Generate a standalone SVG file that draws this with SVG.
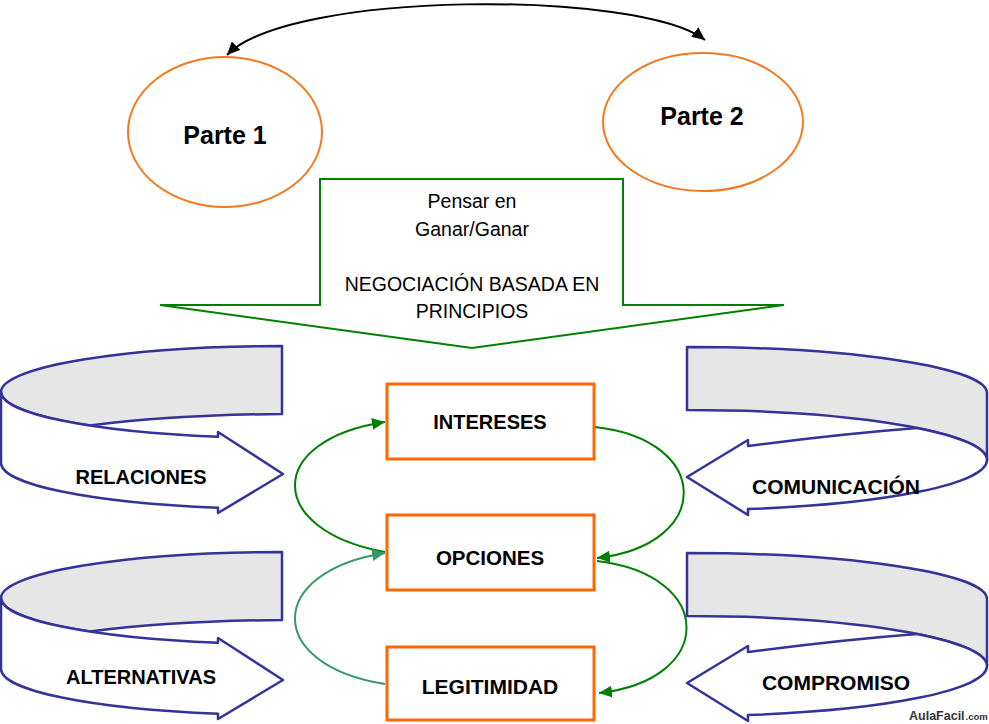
<svg xmlns="http://www.w3.org/2000/svg" width="989" height="724" viewBox="0 0 989 724">
<defs>
<style>
.lbl{font-family:"Liberation Sans",Arial,sans-serif;font-weight:bold;fill:#000;text-anchor:middle}
.reg{font-family:"Liberation Sans",Arial,sans-serif;fill:#000;text-anchor:middle;font-size:19.5px}
.oval{fill:#fff;stroke:#F5791F;stroke-width:2}
.box{fill:#fff;stroke:#FF6600;stroke-width:3}
.band{stroke:#333399;stroke-width:2.5;stroke-linejoin:round}
.gray{fill:#E6E6E6}
.white{fill:#fff}
.g1{fill:none;stroke:#008000;stroke-width:2}
.g2{fill:none;stroke:#339966;stroke-width:2}
.blk{fill:none;stroke:#000;stroke-width:2}
</style>
<marker id="ag" markerUnits="userSpaceOnUse" markerWidth="14" markerHeight="12" refX="13" refY="6" orient="auto"><path d="M0,0 L13,6 L0,12 Z" fill="#008000"/></marker>
<marker id="ag2" markerUnits="userSpaceOnUse" markerWidth="14" markerHeight="12" refX="13" refY="6" orient="auto"><path d="M0,0 L13,6 L0,12 Z" fill="#339966"/></marker>
<marker id="ab" markerUnits="userSpaceOnUse" markerWidth="14" markerHeight="12" refX="13" refY="6" orient="auto-start-reverse"><path d="M0,0 L13,6 L0,12 Z" fill="#000"/></marker>
</defs>
<rect width="989" height="724" fill="#fff"/>

<g id="connectors">
<path class="blk" d="M227,55 C290,-10 640,-10 705,40" marker-start="url(#ab)" marker-end="url(#ab)"/>
<path class="g1" d="M385,552 C265,530 265,440 385,422" marker-end="url(#ag)"/>
<path class="g2" d="M385,684 C265,665 265,572 385,553" marker-end="url(#ag2)"/>
<path class="g1" d="M595,427 C713,440 713,545 597,558" marker-end="url(#ag)"/>
<path class="g1" d="M597,561 C716,575 716,680 599,693" marker-end="url(#ag)"/>
</g>

<g id="parte1">
<ellipse class="oval" cx="225" cy="132" rx="97" ry="75"/>
<text class="lbl" x="225" y="144" font-size="25">Parte 1</text>
</g>
<g id="parte2">
<ellipse class="oval" cx="703" cy="122" rx="100" ry="69"/>
<text class="lbl" x="702" y="125" font-size="25">Parte 2</text>
</g>

<g id="negociacion">
<path d="M320,179 L623,179 L623,305 L784,305 L472,348 L160,305 L320,305 Z" fill="#fff" stroke="#008000" stroke-width="2" stroke-linejoin="miter"/>
<text class="reg" x="472" y="208">Pensar en</text>
<text class="reg" x="472" y="236">Ganar/Ganar</text>
<text class="reg" x="472" y="291">NEGOCIACIÓN BASADA EN</text>
<text class="reg" x="472" y="318">PRINCIPIOS</text>
</g>

<g id="intereses">
<rect class="box" x="387" y="384" width="207" height="75"/>
<text class="lbl" x="490" y="429" font-size="20">INTERESES</text>
</g>
<g id="opciones">
<rect class="box" x="387" y="515" width="207" height="75"/>
<text class="lbl" x="490" y="565" font-size="20.5">OPCIONES</text>
</g>
<g id="legitimidad">
<rect class="box" x="387" y="647" width="207" height="73"/>
<text class="lbl" x="490" y="694" font-size="21">LEGITIMIDAD</text>
</g>

<g id="relaciones">
<path class="band gray" d="M282,346 A281,46 0 0 0 1,392 A281,46 0 0 0 90,425.6 Q170,415 282,414 Z"/>
<path class="band white" d="M1,392 A281,46 0 0 0 218,436.8 L218,432 L283,474 L218,513 L218,507.8 A281,46 0 0 1 1,463 Z"/>
<text class="lbl" x="141" y="484" font-size="20">RELACIONES</text>
</g>

<g id="alternativas" transform="translate(0,206)">
<path class="band gray" d="M282,346 A281,46 0 0 0 1,392 A281,46 0 0 0 90,425.6 Q170,415 282,414 Z"/>
<path class="band white" d="M1,392 A281,46 0 0 0 218,436.8 L218,432 L283,474 L218,513 L218,507.8 A281,46 0 0 1 1,463 Z"/>
<text class="lbl" x="141" y="478" font-size="20">ALTERNATIVAS</text>
</g>

<g id="comunicacion">
<path class="band gray" d="M687,347 A300,46 0 0 1 987,393 L987,460 A300,50 0 0 0 687,410 Z"/>
<path class="band white" d="M987,460 A300,50 0 0 1 748,509 L748,515 L687,477 L748,440 L748,446 Q840,434 917,428 A300,50 0 0 1 987,460 Z"/>
<text class="lbl" x="836" y="494" font-size="21">COMUNICACIÓN</text>
</g>

<g id="compromiso" transform="translate(0,206)">
<path class="band gray" d="M687,347 A300,46 0 0 1 987,393 L987,460 A300,50 0 0 0 687,410 Z"/>
<path class="band white" d="M987,460 A300,50 0 0 1 748,509 L748,515 L687,477 L748,440 L748,446 Q840,434 917,428 A300,50 0 0 1 987,460 Z"/>
<text class="lbl" x="836" y="484" font-size="21">COMPROMISO</text>
</g>

<g id="watermark">
<text x="909" y="720" font-family="'Liberation Sans',Arial,sans-serif" font-weight="bold" font-size="12.5" fill="#333">AulaFacil<tspan font-size="9.5" dx="1">.com</tspan></text>
</g>
</svg>
